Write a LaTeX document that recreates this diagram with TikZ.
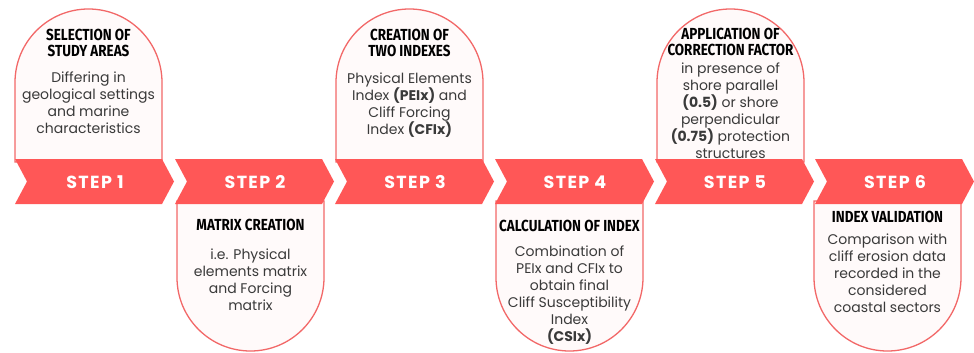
\documentclass[tikz,border=0pt]{standalone}
\usepackage{fontspec}
\setmainfont{Poppins}
\newfontfamily\titlefont[FakeStretch=0.84]{Fira Sans}
\newfontfamily\stepfont[LetterSpace=8]{Poppins}
\definecolor{stepred}{RGB}{255,87,87}
\definecolor{cardline}{RGB}{242,104,104}
\definecolor{cardfill}{RGB}{255,250,250}
\definecolor{bodygray}{RGB}{58,58,58}

\begin{document}
\begin{tikzpicture}[x=1pt, y=-1pt,
    banner/.style={fill=stepred},
    card/.style={draw=cardline, fill=cardfill, line width=1.3pt},
    steplabel/.style={font=\stepfont\bfseries\fontsize{17.5}{20}\selectfont, text=white},
    cardtitle/.style={font=\titlefont\bfseries\fontsize{16}{16.5}\selectfont, align=center, text=black},
    cardtext/.style={font=\fontsize{14}{17}\selectfont, align=center, text=bodygray}]
    \useasboundingbox (0,0) rectangle (974,353);

    \draw[card] (15,162) -- (15,82.5) arc (180:360:73.5) -- (162,162) -- cycle;
    \draw[card] (336,162) -- (336,82.5) arc (180:360:73.5) -- (483,162) -- cycle;
    \draw[card] (657,162) -- (657,82.5) arc (180:360:73.5) -- (804,162) -- cycle;

    \draw[card] (177,201) -- (177,277.5) arc (180:0:73.5) -- (324,201) -- cycle;
    \draw[card] (496,201) -- (496,277.5) arc (180:0:73.5) -- (643,201) -- cycle;
    \draw[card] (814,201) -- (814,277.5) arc (180:0:73.5) -- (961,201) -- cycle;

    \fill[banner] (15,159) -- (162,159) -- (174,181.5) -- (162,204) -- (15,204) -- (27,181.5) -- cycle;
    \fill[banner] (175,159) -- (322,159) -- (334,181.5) -- (322,204) -- (175,204) -- (187,181.5) -- cycle;
    \fill[banner] (335,159) -- (482,159) -- (494,181.5) -- (482,204) -- (335,204) -- (347,181.5) -- cycle;
    \fill[banner] (495,159) -- (642,159) -- (654,181.5) -- (642,204) -- (495,204) -- (507,181.5) -- cycle;
    \fill[banner] (655,159) -- (802,159) -- (814,181.5) -- (802,204) -- (655,204) -- (667,181.5) -- cycle;
    \fill[banner] (815,159) -- (962,159) -- (974,181.5) -- (962,204) -- (815,204) -- (827,181.5) -- cycle;

    \node[steplabel] (step1) at (95,182) {STEP 1};
    \node[steplabel] (step2) at (255,182) {STEP 2};
    \node[steplabel] (step3) at (415,182) {STEP 3};
    \node[steplabel] (step4) at (575,182) {STEP 4};
    \node[steplabel] (step5) at (735,182) {STEP 5};
    \node[steplabel] (step6) at (895,182) {STEP 6};

    \node[cardtitle] (title1) at (88.5,43) {SELECTION OF\\STUDY AREAS};
    \node[cardtext] (text1) at (88.5,102.5) {Differing in\\geological settings\\and marine\\characteristics};

    \node[cardtitle] (title2) at (250.5,225) {MATRIX CREATION};
    \node[cardtext] (text2) at (250.5,280) {i.e. Physical\\elements matrix\\and Forcing\\matrix};

    \node[cardtitle] (title3) at (409.5,43) {CREATION OF\\TWO INDEXES};
    \node[cardtext] (text3) at (409.5,105) {Physical Elements\\Index \textbf{(PEIx)} and\\Cliff Forcing\\Index \textbf{(CFIx)}};

    \node[cardtitle] (title4) at (569.5,226) {CALCULATION OF INDEX};
    \node[cardtext] (text4) at (569.5,295) {Combination of\\PEIx and CFIx to\\obtain final\\Cliff Susceptibility\\Index\\\textbf{(CSIx)}};

    \node[cardtitle] (title5) at (730.5,42) {APPLICATION OF\\CORRECTION FACTOR};
    \node[cardtext] (text5) at (730.5,110.5) {in presence of\\shore parallel\\\textbf{(0.5)} or shore\\perpendicular\\\textbf{(0.75)} protection\\structures};

    \node[cardtitle] (title6) at (887.5,217) {INDEX VALIDATION};
    \node[cardtext] (text6) at (887.5,273.5) {Comparison with\\cliff erosion data\\recorded in the\\considered\\coastal sectors};
\end{tikzpicture}
\end{document}
